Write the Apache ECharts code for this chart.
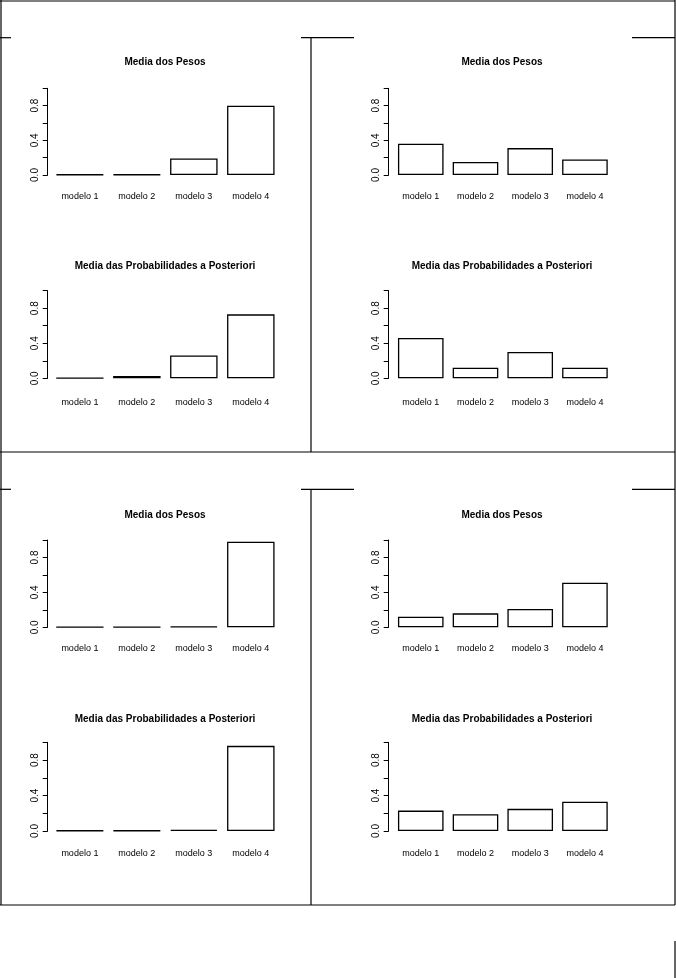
<!DOCTYPE html>
<html><head><meta charset="utf-8">
<script src="https://cdn.jsdelivr.net/npm/echarts@6/dist/echarts.min.js"></script>
<style>html,body{margin:0;padding:0;background:#fff}#c{width:676px;height:978px}</style>
</head><body><div id="c"></div>
<script>
// ---- data ----
const categories = ['modelo 1', 'modelo 2', 'modelo 3', 'modelo 4'];
const titlePesos = 'Media dos Pesos';
const titlePost = 'Media das Probabilidades a Posteriori';
const yTickLabels = ['0.0', '0.4', '0.8'];
const pesosA = [0.006, 0.006, 0.19, 0.80];
const postA  = [0.002, 0.025, 0.26, 0.73];
const pesosB = [0.36, 0.15, 0.31, 0.18];
const postB  = [0.46, 0.12, 0.30, 0.12];
const pesosC = [0.002, 0.002, 0.01, 0.98];
const postC  = [0.006, 0.006, 0.014, 0.96];
const pesosD = [0.12, 0.16, 0.21, 0.51];
const postD  = [0.23, 0.19, 0.25, 0.33];

// ---- layout ----
const cols = [
  {axisX: 47.7, gridLeft: 51.4, gridWidth: 227.9, titleX: 165},
  {axisX: 388.7, gridLeft: 393.4, gridWidth: 218.9, titleX: 502}
];
const rows = [
  {top: 88.3, bottom: 175, titleY: 63, labY: 196},
  {top: 290.7, bottom: 378.3, titleY: 267.7, labY: 401.7},
  {top: 540, bottom: 627.3, titleY: 516, labY: 648.3},
  {top: 742.3, bottom: 831, titleY: 720, labY: 852.7}
];
const charts = [
  {col: 0, row: 0, title: titlePesos, data: pesosA},
  {col: 0, row: 1, title: titlePost, data: postA},
  {col: 1, row: 0, title: titlePesos, data: pesosB},
  {col: 1, row: 1, title: titlePost, data: postB},
  {col: 0, row: 2, title: titlePesos, data: pesosC},
  {col: 0, row: 3, title: titlePost, data: postC},
  {col: 1, row: 2, title: titlePesos, data: pesosD},
  {col: 1, row: 3, title: titlePost, data: postD}
];

const font = '"Liberation Sans", Arial, sans-serif';
const grids = [], xAxes = [], yAxes = [], series = [], titles = [];
charts.forEach((c, i) => {
  const col = cols[c.col], row = rows[c.row];
  grids.push({left: col.gridLeft, top: row.top, width: col.gridWidth, height: row.bottom - row.top, containLabel: false});
  xAxes.push({
    type: 'category', gridIndex: i, data: categories,
    axisLine: {show: false}, axisTick: {show: false},
    axisLabel: {interval: 0, margin: row.labY - row.bottom - 4, color: '#000', fontSize: 9, fontFamily: font}
  });
  yAxes.push({
    type: 'value', gridIndex: i, min: 0, max: 1, interval: 0.2,
    offset: col.gridLeft - col.axisX,
    splitLine: {show: false},
    axisLine: {show: true, lineStyle: {color: '#000', width: 1}},
    axisTick: {show: true, length: 5, lineStyle: {color: '#000', width: 1}},
    axisLabel: {
      rotate: 90, margin: 7, color: '#000', fontSize: 10, fontFamily: font,
      formatter: v => { const s = v.toFixed(1); return yTickLabels.indexOf(s) >= 0 ? s : ''; }
    }
  });
  series.push({
    type: 'bar', xAxisIndex: i, yAxisIndex: i, data: c.data,
    barWidth: '83.33%', silent: true,
    itemStyle: {color: '#fff', borderColor: '#000', borderWidth: 1.3}
  });
  titles.push({
    text: c.title, left: col.titleX, top: row.titleY - 6, textAlign: 'center', padding: 0,
    textStyle: {fontSize: 10, fontWeight: 'bold', color: '#000', fontFamily: font}
  });
});

function ln(x1, y1, x2, y2) {
  return {type: 'line', silent: true, shape: {x1, y1, x2, y2}, style: {stroke: '#000', lineWidth: 1.2}};
}
const frame = [
  ln(0, 1, 675, 1), ln(1, 0, 1, 905), ln(675, 0, 675, 905),
  ln(0, 37.7, 11, 37.7), ln(301, 37.7, 354, 37.7), ln(632, 37.7, 675, 37.7),
  ln(311, 37.7, 311, 452), ln(0, 452, 675, 452),
  ln(0, 489.3, 11, 489.3), ln(301, 489.3, 354, 489.3), ln(632, 489.3, 675, 489.3),
  ln(311, 489.3, 311, 905), ln(0, 905, 675, 905),
  ln(675, 941, 675, 978)
];

const chart = echarts.init(document.getElementById('c'), null, {renderer: 'canvas'});
chart.setOption({
  backgroundColor: '#fff', animation: false,
  title: titles, grid: grids, xAxis: xAxes, yAxis: yAxes, series: series,
  graphic: frame
});
</script></body></html>
